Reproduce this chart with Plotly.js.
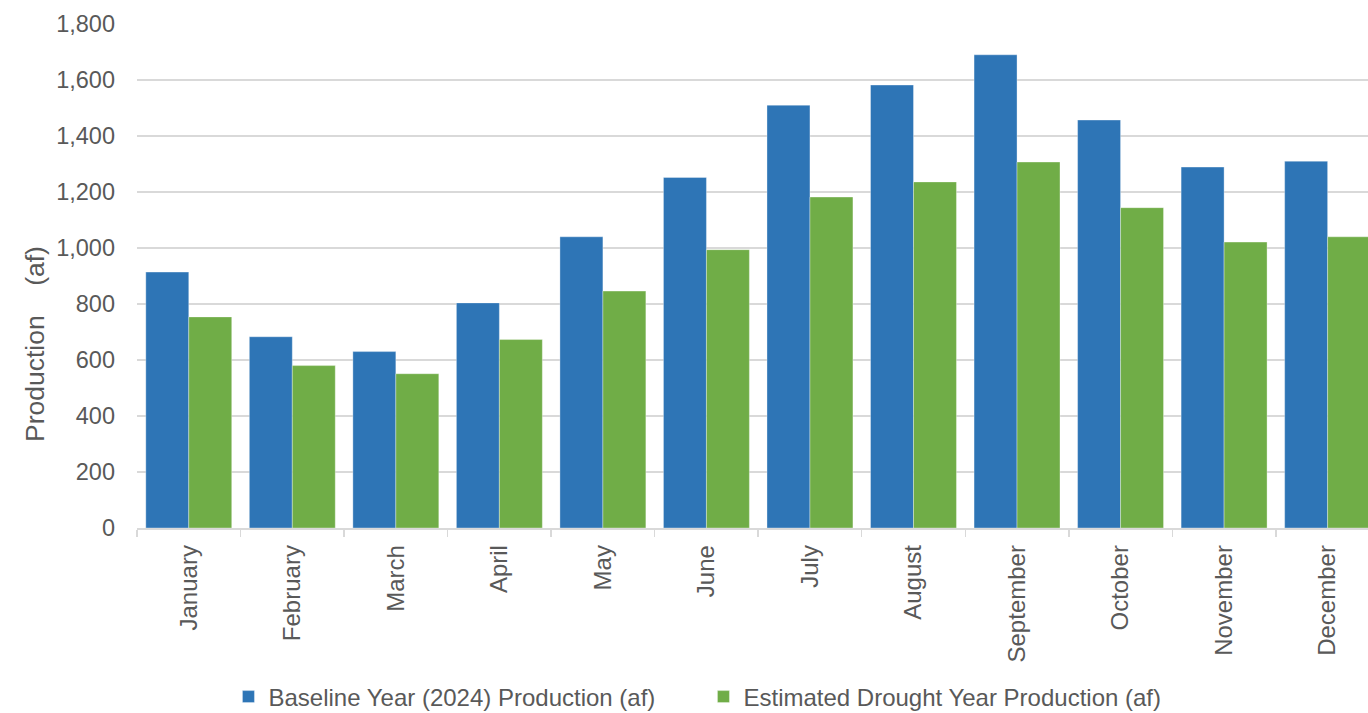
<!DOCTYPE html>
<html>
<head>
<meta charset="utf-8">
<script src="https://cdn.plot.ly/plotly-3.0.1.min.js"></script>
<style>html,body{margin:0;padding:0;background:#fff;}#chart{width:1368px;height:713px;}</style>
</head>
<body>
<div id="chart"></div>
<script>
const months = ["January","February","March","April","May","June","July","August","September","October","November","December"];
const baseline = [914, 683, 630, 804, 1040, 1252, 1510, 1582, 1690, 1457, 1289, 1310];
const drought = [754, 580, 551, 673, 846, 994, 1182, 1236, 1307, 1144, 1021, 1040];
const yTicks = [0, 200, 400, 600, 800, 1000, 1200, 1400, 1600, 1800];

const font = "Liberation Sans, Arial, sans-serif";
const txt = "#595959";

const traces = [
  {type: "bar", x: months, y: baseline, name: "Baseline Year (2024) Production (af)",
   marker: {color: "#2E75B6", line: {color: "rgba(255,255,255,0.45)", width: 0.75}}, hoverinfo: "x+y"},
  {type: "bar", x: months, y: drought, name: "Estimated Drought Year Production (af)",
   marker: {color: "#70AD47", line: {color: "rgba(255,255,255,0.45)", width: 0.75}}, hoverinfo: "x+y"}
];

const layout = {
  width: 1368, height: 713,
  margin: {l: 137, r: 0, t: 24, b: 185, pad: 0},
  paper_bgcolor: "#fff", plot_bgcolor: "#fff",
  font: {family: font, color: txt, size: 23},
  barmode: "group", bargap: 0.17, bargroupgap: 0,
  xaxis: {
    type: "category", range: [-0.5, 11.39],
    showline: true, linecolor: "#D9D9D9", linewidth: 1.5,
    ticks: "outside", tickson: "boundaries", ticklen: 7, tickcolor: "#D9D9D9", tickwidth: 1.5,
    tickangle: -90, tickfont: {size: 24, color: txt, family: font},
    showgrid: false, zeroline: false, ticklabelstandoff: 6
  },
  yaxis: {
    range: [0, 1800], tickvals: yTicks, tickformat: ",d",
    gridcolor: "#D9D9D9", gridwidth: 1.5, zeroline: false, showline: false,
    ticks: "", tickfont: {size: 23.5, color: txt, family: font}, ticklabelstandoff: 21
  },
  showlegend: true,
  legend: {
    orientation: "h", xref: "container", yref: "container",
    x: 0.167, xanchor: "left", y: 16/713, yanchor: "middle",
    font: {size: 24, color: txt, family: font},
    entrywidth: 430, traceorder: "normal"
  },
  annotations: [{
    text: "Production\u00A0\u00A0\u00A0\u00A0(af)", textangle: -90,
    xref: "paper", yref: "paper", x: (35 - 137) / 1231, y: (528 - 344) / 504,
    xanchor: "center", yanchor: "middle", showarrow: false,
    font: {size: 26.5, color: txt, family: font}
  }]
};

Plotly.newPlot("chart", traces, layout, {displayModeBar: false, staticPlot: true});
</script>
</body>
</html>
